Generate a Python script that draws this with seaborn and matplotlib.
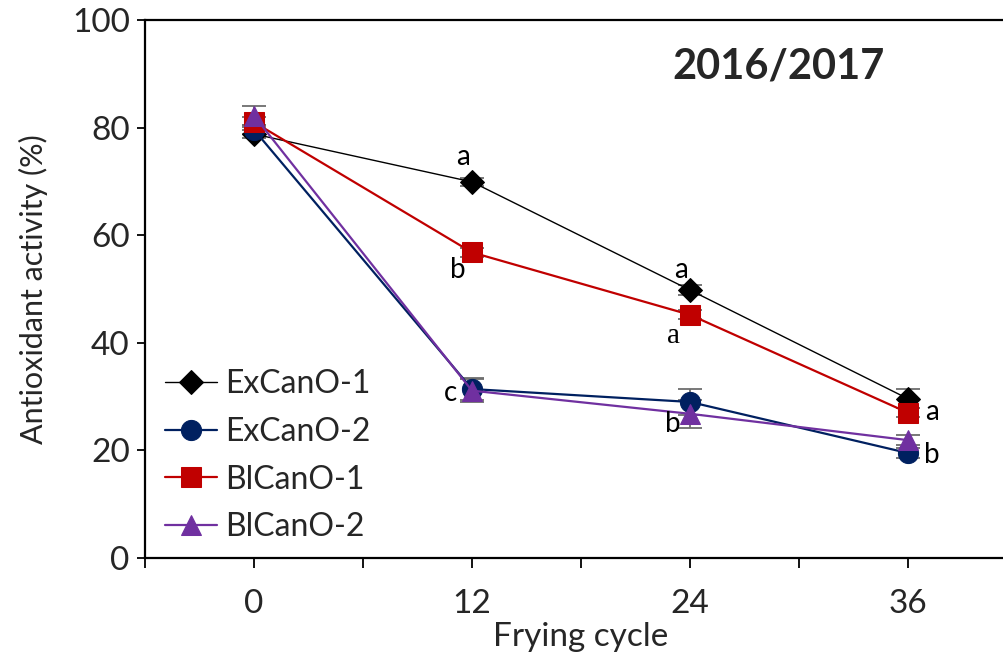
import numpy as np
import pandas as pd
import matplotlib
matplotlib.use("Agg")
import matplotlib.pyplot as plt
import seaborn as sns

cycles = [0, 12, 24, 36]
series_names = ["ExCanO-1", "ExCanO-2", "BlCanO-1", "BlCanO-2"]
excan1 = [78.8, 69.9, 49.8, 29.6]
excan2 = [79.6, 31.4, 29.0, 19.5]
blcan1 = [81.0, 56.8, 45.2, 27.0]
blcan2 = [82.2, 31.1, 26.8, 21.9]
excan1_err = [0.8, 0.8, 0.9, 1.8]
excan2_err = [0.8, 2.0, 2.4, 1.0]
blcan1_err = [0.9, 0.8, 0.8, 0.8]
blcan2_err = [1.8, 2.2, 2.6, 0.9]
letters = ["a", "b", "c", "a", "a", "b", "a", "b"]
letter_x = [11.5, 11.2, 10.8, 23.5, 23.1, 23.05, 37.3, 37.3]
letter_y = [74.6, 53.5, 30.6, 53.6, 41.2, 24.9, 27.2, 19.1]
letter_serif = [False, False, False, False, True, False, False, False]
x_ticks = [-6, 0, 6, 12, 18, 24, 30, 36]
x_tick_labels = ["", "0", "", "12", "", "24", "", "36"]
y_ticks = [0, 20, 40, 60, 80, 100]

values = [excan1, excan2, blcan1, blcan2]
errors = [excan1_err, excan2_err, blcan1_err, blcan2_err]
df = pd.DataFrame({
    "cycle": np.tile(cycles, len(series_names)),
    "value": np.concatenate(values),
    "series": np.repeat(series_names, len(cycles)),
})

sns.set_style("white")
plt.rcParams["font.family"] = ["Lato", "DejaVu Sans"]

colors = {"ExCanO-1": "#000000", "ExCanO-2": "#002060",
          "BlCanO-1": "#C00000", "BlCanO-2": "#7030A0"}
markers = {"ExCanO-1": "D", "ExCanO-2": "o", "BlCanO-1": "s", "BlCanO-2": "^"}
msizes = {"ExCanO-1": 12.5, "ExCanO-2": 14.5, "BlCanO-1": 14, "BlCanO-2": 15}
lws = {"ExCanO-1": 1.0, "ExCanO-2": 1.6, "BlCanO-1": 1.6, "BlCanO-2": 1.6}

fig = plt.figure(figsize=(10.04, 6.59), dpi=100)
ax = fig.add_axes([0.1444, 0.1533, 0.8685, 0.8164])

for name, v, e in zip(series_names, values, errors):
    ax.errorbar(cycles, v, yerr=e, fmt="none", ecolor="#6d6d6d",
                elinewidth=1.3, capsize=8.5, capthick=1.3, zorder=1)

for name in series_names:
    sub = df[df["series"] == name]
    sns.lineplot(data=sub, x="cycle", y="value", ax=ax, color=colors[name],
                 marker=markers[name], markersize=msizes[name],
                 markeredgecolor=colors[name], linewidth=lws[name],
                 label=name, zorder=3, errorbar=None)

for t, x, y, serif in zip(letters, letter_x, letter_y, letter_serif):
    fam = ["Liberation Serif"] if serif else ["Lato", "DejaVu Sans"]
    ax.text(x, y, t, fontsize=20 if not serif else 21, family=fam,
            ha="center", va="center", color="black")

ax.text(28.9, 91.4, "2016/2017", fontsize=30, fontweight="bold",
        ha="center", va="center")

ax.set_xlim(-6, 42)
ax.set_ylim(0, 100)
ax.set_xticks(x_ticks)
ax.set_xticklabels(x_tick_labels, fontsize=24)
ax.set_yticks(y_ticks)
ax.set_yticklabels([str(t) for t in y_ticks], fontsize=24)
ax.tick_params(axis="x", direction="out", length=7.5, width=1.3,
               pad=15, bottom=True, color="black")
ax.tick_params(axis="y", direction="out", length=6, width=1.3,
               pad=5, left=True, color="black")
ax.set_xlabel("Frying cycle", fontsize=24, labelpad=2)
ax.set_ylabel("Antioxidant activity (%)", fontsize=22, labelpad=17)

for s in ["left", "bottom", "top"]:
    ax.spines[s].set_visible(True)
    ax.spines[s].set_color("black")
    ax.spines[s].set_linewidth(1.6)
ax.spines["right"].set_visible(False)

leg = ax.legend(loc="center left", bbox_to_anchor=(0.008, 0.19), frameon=False,
                fontsize=23, handlelength=1.65, handletextpad=0.25,
                labelspacing=0.55, borderaxespad=0.0, borderpad=0.4)

fig.savefig("out.png", dpi=100, facecolor="white")
